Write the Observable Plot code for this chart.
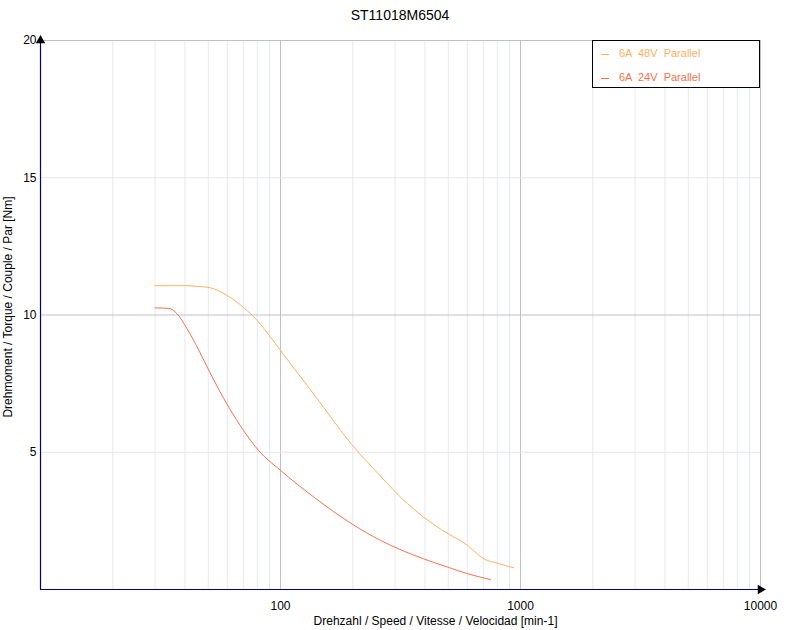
<!DOCTYPE html>
<html><head><meta charset="utf-8">
<script src="https://cdn.jsdelivr.net/npm/d3@7"></script>
<script src="https://cdn.jsdelivr.net/npm/@observablehq/plot@0.6"></script>
<style>
body{margin:0;background:#fff;font-family:"Liberation Sans",Arial,sans-serif;}
#wrap{position:relative;width:800px;height:630px;}
#title{height:30px;line-height:31px;text-align:center;font-size:14px;color:#000;}
#legend{position:absolute;left:592px;top:40px;width:166px;height:46px;border:1px solid #000;background:#fff;font-size:11px;}
.item{position:absolute;left:8px;white-space:pre;}
.sw{display:inline-block;width:8px;height:1px;vertical-align:middle;margin-right:10px;}
</style></head><body>
<div id="wrap"><div id="title">ST11018M6504</div><div id="chart"></div><div id="legend"></div></div>
<script>
const title = "ST11018M6504";
const xLabel = "Drehzahl / Speed / Vitesse / Velocidad [min-1]";
const yLabel = "Drehmoment / Torque / Couple / Par [Nm]";
const seriesNames = ["6A  48V  Parallel", "6A  24V  Parallel"];
const seriesColors = ["#ffb060", "#f9704c"];

const speed48 = [30, 40, 44, 51, 60, 70, 80, 91, 100, 138, 200, 261, 322, 394, 495, 601, 636, 703, 800, 937];
const torque48 = [11.07, 11.07, 11.05, 10.99, 10.71, 10.28, 9.80, 9.19, 8.71, 7.10, 5.24, 4.13, 3.30, 2.64, 2.05, 1.61, 1.42, 1.12, 0.96, 0.79];
const speed24 = [30, 34.3, 37.1, 40.8, 45.7, 50.3, 60.9, 70.2, 81.1, 100, 138, 200, 261, 394, 495, 600, 750];
const torque24 = [10.26, 10.24, 10.04, 9.50, 8.71, 7.98, 6.64, 5.79, 5.06, 4.34, 3.36, 2.37, 1.79, 1.12, 0.82, 0.58, 0.36];

const xTicks = [100, 1000, 10000];
const yTicks = [5, 10, 15, 20];
const xMajor = [100, 1000, 10000];
const xMinor = [20,30,40,50,60,70,80,90,200,300,400,500,600,700,800,900,2000,3000,4000,5000,6000,7000,8000,9000];
const yMajor = [10, 20];
const yMinor = [5, 15];

const series = [
  {name: seriesNames[0], speed: speed48, torque: torque48},
  {name: seriesNames[1], speed: speed24, torque: torque24}
];
const rows = series.flatMap(s => s.speed.map((v, i) => ({series: s.name, speed: v, torque: s.torque[i]})));

const chart = Plot.plot({
  width: 800, height: 600,
  marginTop: 10, marginLeft: 40, marginRight: 40, marginBottom: 41,
  style: {fontFamily: "'Liberation Sans', Arial, sans-serif", fontSize: "12px", background: "#fff", color: "#000"},
  x: {type: "log", domain: [10, 10000]},
  y: {domain: [0, 20]},
  color: {domain: seriesNames, range: seriesColors},
  marks: [
    Plot.ruleX(xMinor, {stroke: "#e4e8f0", strokeWidth: 1}),
    Plot.ruleX(xMajor, {stroke: "#c0c0cc", strokeWidth: 1}),
    Plot.ruleY(yMinor, {stroke: "#e6e6e6", strokeWidth: 1}),
    Plot.ruleY(yMajor, {stroke: "#c0c0cc", strokeWidth: 1}),
    Plot.line(rows, {x: "speed", y: "torque", z: "series", stroke: "series", strokeWidth: 1, curve: "monotone-x"}),
    Plot.ruleX([10], {stroke: "#000080", strokeWidth: 1.2}),
    Plot.ruleY([0], {stroke: "#000080", strokeWidth: 1.2}),
    Plot.dot([{x: 10, y: 20}], {x: "x", y: "y", symbol: "triangle", r: 3.5, fill: "#000", stroke: null}),
    Plot.dot([{x: 10000, y: 0}], {x: "x", y: "y", symbol: "triangle", r: 3.5, fill: "#000", stroke: null, rotate: 90}),
    Plot.axisX(xTicks, {tickSize: 0, tickPadding: 12, tickFormat: d => String(d), label: null, fontSize: 12}),
    Plot.axisY(yTicks, {tickSize: 0, tickPadding: 4, label: null, fontSize: 12}),
    Plot.text([xLabel], {frameAnchor: "bottom", dx: 35, dy: 35, fontSize: 12, fill: "#000"}),
    Plot.text([yLabel], {frameAnchor: "left", textAnchor: "middle", rotate: -90, dx: -32, dy: -8, fontSize: 12, fill: "#000"})
  ]
});
document.getElementById("chart").appendChild(chart);
document.getElementById("title").textContent = title;

const legend = document.getElementById("legend");
seriesNames.forEach((n, i) => {
  const d = document.createElement("div");
  d.className = "item";
  d.style.top = (6 + i * 24) + "px";
  d.style.color = seriesColors[i];
  const sw = document.createElement("span");
  sw.className = "sw";
  sw.style.background = seriesColors[i];
  d.appendChild(sw);
  d.appendChild(document.createTextNode(n));
  legend.appendChild(d);
});
</script>
</body></html>
